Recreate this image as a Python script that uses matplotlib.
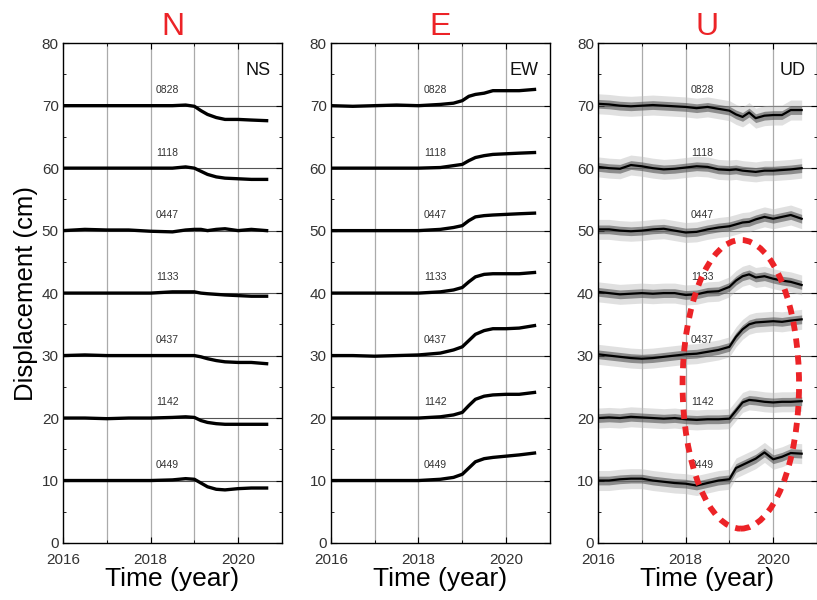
"""Sèries temporals GNSS (N, E, U) de 7 estacions amb desplaçament desplaçat 10 cm."""

import matplotlib
matplotlib.use("Agg")
import matplotlib.pyplot as plt
from matplotlib.patches import Ellipse
import numpy as np

plt.rcParams["font.family"] = ["Liberation Sans", "DejaVu Sans"]

# --- dades llegides de la figura -------------------------------------------
stations = ["0828", "1118", "0447", "1133", "0437", "1142", "0449"]
offsets = [70, 60, 50, 40, 30, 20, 10]

t_hor = [2016.0, 2016.5, 2017.0, 2017.5, 2018.0, 2018.5, 2018.8, 2019.0,
         2019.15, 2019.3, 2019.5, 2019.7, 2020.0, 2020.3, 2020.65]

ns_0828 = [70, 70, 70, 70, 70, 70, 70.1, 69.9, 69.2, 68.6, 68.1, 67.8, 67.8, 67.7, 67.6]
ns_1118 = [60, 60, 60, 60, 60, 60, 60.2, 60, 59.5, 59.0, 58.6, 58.4, 58.3, 58.2, 58.2]
ns_0447 = [50, 50.2, 50.1, 50.1, 49.9, 49.8, 50.1, 50.2, 50.2, 50.0, 50.2, 50.3, 50.0, 50.2, 50.0]
ns_1133 = [40, 40, 40, 40, 40, 40.2, 40.2, 40.2, 40.0, 39.9, 39.8, 39.7, 39.6, 39.5, 39.5]
ns_0437 = [30, 30.1, 30, 30, 30, 30, 30, 30, 29.8, 29.5, 29.2, 29.0, 28.9, 28.9, 28.7]
ns_1142 = [20, 20, 19.9, 20, 20, 20.1, 20.2, 20.1, 19.6, 19.3, 19.1, 19, 19, 19, 19]
ns_0449 = [10, 10, 10, 10, 10, 10.1, 10.3, 10.2, 9.6, 9.0, 8.6, 8.5, 8.7, 8.8, 8.8]

ew_0828 = [70, 69.9, 70, 70.1, 70, 70.2, 70.4, 70.8, 71.5, 71.8, 72.0, 72.4, 72.4, 72.4, 72.6]
ew_1118 = [60, 60, 60, 60, 60, 60.1, 60.4, 60.6, 61.2, 61.7, 62.0, 62.2, 62.3, 62.4, 62.5]
ew_0447 = [50, 50, 50, 50, 50, 50.2, 50.5, 50.8, 51.6, 52.2, 52.4, 52.5, 52.6, 52.7, 52.8]
ew_1133 = [40, 40, 40, 40, 40, 40.2, 40.5, 40.9, 41.8, 42.6, 43.0, 43.1, 43.1, 43.1, 43.3]
ew_0437 = [30, 30, 29.9, 30, 30.1, 30.4, 30.9, 31.4, 32.4, 33.4, 34.0, 34.3, 34.3, 34.4, 34.8]
ew_1142 = [20, 20, 20, 20, 20, 20.2, 20.5, 20.9, 22.0, 23.0, 23.5, 23.7, 23.8, 23.8, 24.1]
ew_0449 = [10, 10, 10, 10, 10, 10.2, 10.5, 11.0, 12.0, 13.0, 13.5, 13.7, 13.9, 14.1, 14.4]

t_ud = [2016.0, 2016.25, 2016.5, 2016.75, 2017.0, 2017.25, 2017.5, 2017.75,
        2018.0, 2018.25, 2018.5, 2018.75, 2019.0, 2019.15, 2019.3, 2019.45,
        2019.6, 2019.8, 2020.0, 2020.2, 2020.4, 2020.65]

ud_0828 = [70.3, 70.2, 70.0, 69.9, 70.0, 70.1, 70.0, 69.9, 69.8, 69.6, 69.8, 69.5,
           69.2, 68.6, 68.2, 68.9, 68.0, 68.4, 68.5, 68.5, 69.3, 69.3]
ud_1118 = [60.2, 60.0, 59.9, 60.5, 60.3, 60.0, 59.8, 59.9, 60.1, 60.3, 60.2, 59.8,
           59.7, 59.8, 59.6, 59.5, 59.4, 59.6, 59.6, 59.7, 59.8, 60.0]
ud_0447 = [50.2, 50.2, 50.0, 49.9, 50.0, 50.2, 50.3, 50.0, 49.7, 49.8, 50.2, 50.5,
           50.7, 51.0, 51.3, 51.4, 51.8, 52.2, 51.9, 52.2, 52.5, 51.9]
ud_1133 = [40.2, 40.0, 39.8, 39.9, 40.0, 39.9, 40.0, 40.0, 39.7, 39.8, 40.2, 40.3,
           41.0, 42.0, 42.7, 43.0, 42.5, 42.7, 42.3, 42.0, 41.8, 41.3]
ud_0437 = [30.2, 30.0, 29.8, 29.6, 29.5, 29.6, 29.8, 30.0, 30.2, 30.3, 30.6, 30.9,
           31.4, 33.0, 34.2, 35.0, 35.3, 35.4, 35.5, 35.4, 35.6, 35.8]
ud_1142 = [20.0, 20.1, 20.0, 20.2, 20.1, 20.0, 19.9, 20.0, 19.8, 19.7, 19.8, 19.8,
           19.9, 21.2, 22.5, 22.9, 22.8, 22.6, 22.5, 22.6, 22.6, 22.7]
ud_0449 = [10.0, 10.0, 10.2, 10.3, 10.3, 10.0, 9.8, 9.6, 9.5, 9.2, 9.6, 10.0,
           10.2, 12.0, 12.5, 13.0, 13.5, 14.5, 13.4, 13.8, 14.4, 14.3]

ns_series = [ns_0828, ns_1118, ns_0447, ns_1133, ns_0437, ns_1142, ns_0449]
ew_series = [ew_0828, ew_1118, ew_0447, ew_1133, ew_0437, ew_1142, ew_0449]
ud_series = [ud_0828, ud_1118, ud_0447, ud_1133, ud_0437, ud_1142, ud_0449]

# amplada aproximada del núvol de punts (cm) a la component vertical
spread_ud_inner = 0.7
spread_ud_outer = 1.6

panels = [
    ("N", "NS", t_hor, ns_series),
    ("E", "EW", t_hor, ew_series),
    ("U", "UD", t_ud, ud_series),
]

RED = "#ec2327"

fig = plt.figure(figsize=(8.17, 6.0), dpi=100)
lefts = [0.0771, 0.405, 0.732]
axes = [fig.add_axes([l, 0.095, 0.2680, 0.833]) for l in lefts]

for ax, (title, comp, t, series) in zip(axes, panels):
    # graella: vertical gris clar cada any, horitzontal més fosca cada 10 cm
    for yr in [2017, 2018, 2019, 2020]:
        ax.axvline(yr, color="#aaaaaa", lw=0.9, zorder=0)
    for y in offsets:
        ax.axhline(y, color="#555555", lw=0.8, zorder=0)

    for name, off, vals in zip(stations, offsets, series):
        vals = np.asarray(vals, dtype=float)
        if comp == "UD":
            ax.fill_between(t, vals - spread_ud_outer, vals + spread_ud_outer,
                            color="#bbbbbb", alpha=0.45, lw=0, zorder=1)
            ax.fill_between(t, vals - spread_ud_inner, vals + spread_ud_inner,
                            color="#555555", alpha=0.6, lw=0, zorder=2)
            ax.plot(t, vals, color="black", lw=1.6, zorder=3)
        else:
            ax.plot(t, vals, color="black", lw=2.4, zorder=3,
                    solid_joinstyle="round")
        ax.text(2018.38, off + 2.5, name, fontsize=7.5, color="#333333",
                ha="center", va="center")

    ax.set_xlim(2016, 2021)
    ax.set_ylim(0, 80)
    ax.set_xticks([2016, 2018, 2020])
    ax.set_xticks([2017, 2019, 2021], minor=True)
    ax.set_yticks(range(0, 81, 10))
    ax.set_yticks(range(5, 80, 10), minor=True)
    ax.tick_params(which="both", direction="in", top=True, right=True,
                   labelsize=11, labelcolor="#333333")
    ax.tick_params(axis="x", pad=7)
    ax.tick_params(axis="y", pad=3)
    ax.tick_params(which="major", length=4)
    ax.tick_params(which="minor", length=2.5)
    for s in ax.spines.values():
        s.set_linewidth(1.0)

    ax.set_title(title, color=RED, fontsize=23, pad=6)
    ax.text(0.95, 0.946, comp, transform=ax.transAxes, fontsize=13,
            ha="right", va="center", color="#111111")
    ax.set_xlabel("Time (year)", fontsize=19, labelpad=0)

axes[0].set_ylabel("Displacement (cm)", fontsize=18.5, labelpad=3)

# el·lipse vermella puntejada que marca el senyal vertical
ell = Ellipse((2019.26, 25.4), width=2.66, height=46.2, facecolor="none",
              edgecolor=RED, lw=4.2, linestyle=(0, (1.6, 1.3)), zorder=5)
axes[2].add_patch(ell)

fig.savefig("out.png", dpi=100)
